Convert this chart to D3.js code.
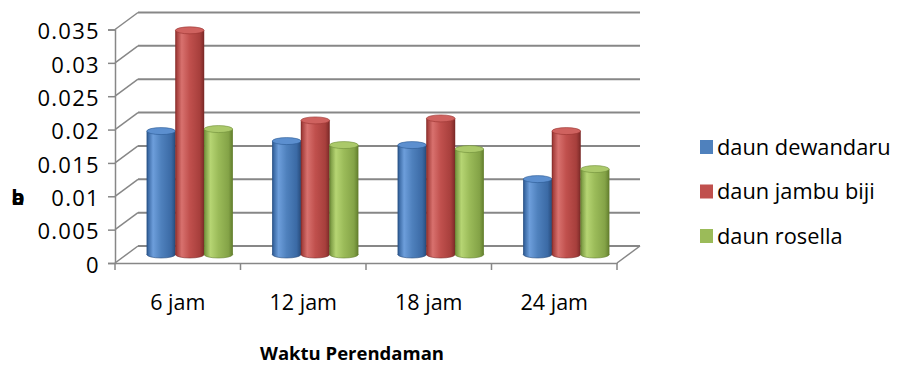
<!DOCTYPE html>
<html>
<head>
<meta charset="utf-8">
<script src="https://cdn.jsdelivr.net/npm/d3@7"></script>
<style>
    body { margin: 0; background: #fff; }
    svg text { font-family: "Open Sans", sans-serif; fill: #000; }
</style>
</head>
<body>
<svg class="chart" width="899" height="366"></svg>
<script>

var categories = ["6 jam", "12 jam", "18 jam", "24 jam"];
var seriesNames = ["daun dewandaru", "daun jambu biji", "daun rosella"];
var dewandaru = [0.0185, 0.0170, 0.0164, 0.0113];
var jambuBiji = [0.0336, 0.0201, 0.0204, 0.0185];
var rosella = [0.0188, 0.0164, 0.0158, 0.0128];
var yTicks = [0, 0.005, 0.01, 0.015, 0.02, 0.025, 0.03, 0.035];
var xTitle = "Waktu Perendaman";

var colors = ["#4f81bd", "#c0504d", "#9bbb59"];
var shades = [
    ["#2c5a94", "#6d9edb", "#4f81bd", "#3b6aa5", "#284c7c"],
    ["#97322f", "#d8716e", "#c0504d", "#a73f3c", "#7c2a28"],
    ["#708f3a", "#b6d573", "#9bbb59", "#84a347", "#637f2e"]
];
var tops = ["#5c8fcf", "#cf625f", "#abc96a"];

var values = [dewandaru, jambuBiji, rosella];

var svg = d3.select("svg.chart");

// front plane of the 3d box and depth offset of the back wall
var front = { left: 115, right: 617, bottom: 263, top: 29.5 },
    depth = { dx: 23, dy: -17 },
    mid = { dx: 12, dy: depth.dy / 2 };

var x = d3.scaleBand()
    .domain(categories)
    .range([front.left, front.right]);

var xInner = d3.scaleBand()
    .domain(seriesNames)
    .range([0, x.bandwidth()])
    .paddingInner(0)
    .paddingOuter(0.69);

var y = d3.scaleLinear()
    .domain([0, 0.035])
    .range([front.bottom, front.top]);

var gridColor = "#878787";

var defs = svg.append("defs");
shades.forEach(function(s, i) {
    var g = defs.append("linearGradient")
        .attr("id", "cyl" + i)
        .attr("x1", "0%").attr("x2", "100%")
        .attr("y1", "0%").attr("y2", "0%");
    [0, 0.22, 0.5, 0.85, 1].forEach(function(o, k) {
        g.append("stop").attr("offset", o).attr("stop-color", s[k]);
    });
});

// back wall gridlines
var grid = svg.append("g").attr("class", "grid");
grid.selectAll("line.back")
    .data(yTicks)
    .enter().append("line")
    .attr("class", "back")
    .attr("x1", front.left + depth.dx)
    .attr("x2", front.right + depth.dx)
    .attr("y1", function(d) { return y(d) + depth.dy; })
    .attr("y2", function(d) { return y(d) + depth.dy; })
    .attr("stroke", gridColor)
    .attr("stroke-width", 2);

// side wall diagonals
grid.selectAll("line.side")
    .data(yTicks)
    .enter().append("line")
    .attr("class", "side")
    .attr("x1", front.left)
    .attr("x2", front.left + depth.dx)
    .attr("y1", function(d) { return y(d); })
    .attr("y2", function(d) { return y(d) + depth.dy; })
    .attr("stroke", gridColor)
    .attr("stroke-width", 1.5);

// floor right edge
grid.append("line")
    .attr("x1", front.right)
    .attr("y1", y(0))
    .attr("x2", front.right + depth.dx)
    .attr("y2", y(0) + depth.dy)
    .attr("stroke", gridColor)
    .attr("stroke-width", 1.5);

// y axis
var yAxis = d3.axisLeft(y)
    .tickValues(yTicks)
    .tickSize(7)
    .tickPadding(8)
    .tickFormat(function(d) { return String(+d.toFixed(3)); });

var gy = svg.append("g")
    .attr("transform", "translate(" + front.left + ",0)")
    .call(yAxis);
gy.select(".domain").attr("stroke", gridColor).attr("stroke-width", 1.5);
gy.selectAll(".tick line").attr("stroke", gridColor).attr("stroke-width", 1.5);
gy.selectAll(".tick text")
    .attr("dy", "0.42em")
    .style("font-size", "22px")
    .style("letter-spacing", "1.3px")
    .attr("fill", "#000");

// x axis, ticks between categories
var xAxis = d3.axisBottom(x).tickSize(0).tickPadding(32);
var gx = svg.append("g")
    .attr("transform", "translate(0," + front.bottom + ")")
    .call(xAxis);
gx.select(".domain").attr("stroke", gridColor).attr("stroke-width", 1.5);
gx.selectAll(".tick text").style("font-size", "21.5px").attr("fill", "#000");

var edges = categories.map(function(c) { return x(c); }).concat([front.right]);
gx.selectAll("line.edge")
    .data(edges)
    .enter().append("line")
    .attr("class", "edge")
    .attr("x1", function(d) { return d; })
    .attr("x2", function(d) { return d; })
    .attr("y1", 0)
    .attr("y2", 7)
    .attr("stroke", gridColor)
    .attr("stroke-width", 1.5);

// cylinders
var w = xInner.bandwidth(), ry = 3.5;
var bars = svg.append("g").attr("class", "bars");
categories.forEach(function(c, ci) {
    values.forEach(function(vals, si) {
        var cx = x(c) + xInner(seriesNames[si]) + w / 2 + mid.dx;
        var yt = y(vals[ci]) + mid.dy,
            yb = y(0) + mid.dy;
        var g = bars.append("g");
        g.append("ellipse")
            .attr("cx", cx).attr("cy", yb)
            .attr("rx", w / 2).attr("ry", ry)
            .attr("fill", "url(#cyl" + si + ")")
            .attr("stroke", shades[si][4])
            .attr("stroke-width", 0.6);
        g.append("rect")
            .attr("x", cx - w / 2).attr("y", yt)
            .attr("width", w).attr("height", yb - yt)
            .attr("fill", "url(#cyl" + si + ")");
        // dark side edges
        [cx - w / 2 + 0.3, cx + w / 2 - 0.3].forEach(function(ex) {
            g.append("line")
                .attr("x1", ex).attr("x2", ex)
                .attr("y1", yt).attr("y2", yb)
                .attr("stroke", shades[si][4])
                .attr("stroke-width", 0.6);
        });
        g.append("ellipse")
            .attr("cx", cx).attr("cy", yt)
            .attr("rx", w / 2).attr("ry", ry)
            .attr("fill", tops[si])
            .attr("stroke", shades[si][0])
            .attr("stroke-width", 0.6);
    });
});

// legend
var legend = svg.append("g").attr("transform", "translate(700,0)");
var rows = legend.selectAll("g")
    .data(seriesNames)
    .enter().append("g")
    .attr("transform", function(d, i) { return "translate(0," + (147 + i * 44.5) + ")"; });
rows.append("rect")
    .attr("x", 0).attr("y", -7)
    .attr("width", 13).attr("height", 14)
    .attr("fill", function(d, i) { return colors[i]; });
rows.append("text")
    .attr("x", 17).attr("dy", "0.35em")
    .style("font-size", "21.8px")
    .text(function(d) { return d; });

// axis titles
svg.append("text")
    .attr("x", 352).attr("y", 360)
    .attr("text-anchor", "middle")
    .style("font-size", "18.5px")
    .style("font-weight", "bold")
    .text(xTitle);

// the garbled y title, two glyphs stacked on each other
["b", "a"].forEach(function(t) {
    svg.append("text")
        .attr("x", 18).attr("y", 205)
        .attr("text-anchor", "middle")
        .style("font-size", "21px")
        .style("font-weight", "bold")
        .text(t);
});

</script>
</body>
</html>
